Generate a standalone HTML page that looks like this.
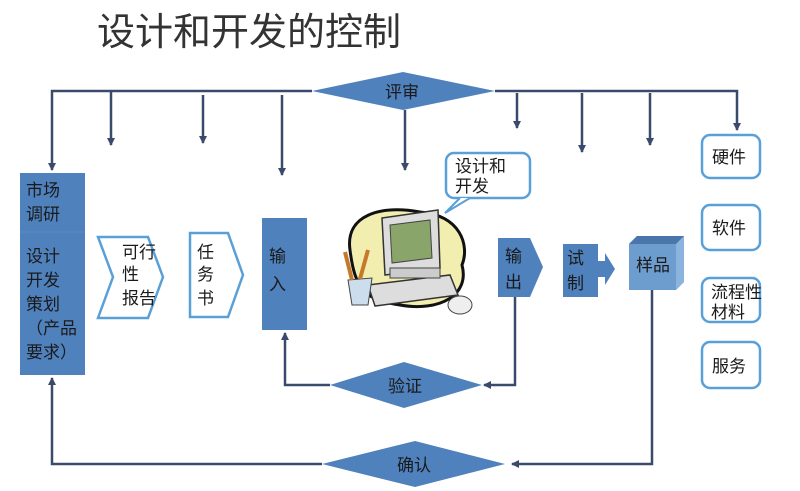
<!DOCTYPE html>
<html><head><meta charset="utf-8"><style>
html,body{margin:0;padding:0;background:#fff;}
svg{display:block;font-family:"Liberation Sans","Noto Sans CJK SC",sans-serif;}
</style></head><body>
<svg width="800" height="491" viewBox="0 0 800 491" xmlns="http://www.w3.org/2000/svg">
<defs>
<marker id="a" markerWidth="8" markerHeight="8" refX="7" refY="4" orient="auto" markerUnits="userSpaceOnUse">
<path d="M0,0 L8,4 L0,8 Z" fill="#3b4a6b"/></marker>
</defs>
<text x="97" y="45" font-size="38" fill="#333">设计和开发的控制</text>
<g stroke="#3b4a6b" stroke-width="2.5" fill="none">
<path d="M312,91 H52 V170" marker-end="url(#a)"/>
<path d="M495,91 H737 V130" marker-end="url(#a)"/>
<path d="M111,91 V145" marker-end="url(#a)"/>
<path d="M203,95 V143" marker-end="url(#a)"/>
<path d="M282,95 V175" marker-end="url(#a)"/>
<path d="M405,110 V170" marker-end="url(#a)"/>
<path d="M517,93 V128" marker-end="url(#a)"/>
<path d="M582,93 V152" marker-end="url(#a)"/>
<path d="M650,93 V145" marker-end="url(#a)"/>
<path d="M515,297 V385 H484" marker-end="url(#a)"/>
<path d="M330,385 H285 V333" marker-end="url(#a)"/>
<path d="M652,290 V464 H512" marker-end="url(#a)"/>
<path d="M322,464 H52 V378" marker-end="url(#a)"/>
</g>
<g fill="#4f81bd">
<polygon points="312,91 403,72 495,91 403,110"/>
<polygon points="330,385 404,362 482,385 404,408"/>
<polygon points="322,464 415,441 505,464 415,487"/>
<rect x="20" y="173" width="65" height="202"/>
<rect x="262" y="218" width="45" height="112"/>
<polygon points="498,238 530,238 543,267 530,297 498,297"/>
<rect x="563" y="244" width="35" height="53"/>
<polygon points="598,261 605,261 605,253 615,269 605,285 605,277 598,277"/>
</g>
<line x1="20" y1="232" x2="85" y2="232" stroke="#5b8ac4" stroke-width="1"/>
<g>
<polygon points="637,236 684,236 684,282 676,290 629,290 629,244" fill="#6d9ccf"/>
<polygon points="629,244 637,236 684,236 676,244" fill="#4a76ab"/>
<polygon points="676,244 684,236 684,282 676,290" fill="#8ab3dd"/>
</g>
<g fill="#fff" stroke="#5aa0d8" stroke-width="2.5">
<polygon points="98,237 148,237 163,277 148,318 98,318 113,277"/>
<polygon points="190,233 228,233 243,275 228,317 190,317"/>
<rect x="702" y="135" width="58" height="43" rx="8"/>
<rect x="702" y="205" width="58" height="45" rx="8"/>
<rect x="702" y="278" width="58" height="44" rx="8"/>
<rect x="702" y="342" width="58" height="46" rx="8"/>
<rect x="446" y="153" width="84" height="45" rx="8"/>
</g>
<path d="M460,198 L445,213 L470,198" fill="#fff" stroke="#5aa0d8" stroke-width="2"/>
<path d="M350,250 C345,215 380,205 420,212 C460,215 470,245 462,265 C470,295 440,312 400,305 C365,300 355,290 350,250 Z" fill="#f1eeb0" stroke="#111" stroke-width="3"/>
<polygon points="382,218 438,210 440,268 385,275" fill="#ddd" stroke="#333" stroke-width="1.5"/>
<polygon points="390,225 430,220 432,258 392,263" fill="#8aa56a" stroke="#444"/>
<polygon points="368,285 450,275 458,295 375,306" fill="#ddd" stroke="#333" stroke-width="1.5"/>
<rect x="390" y="268" width="50" height="10" fill="#ccc" stroke="#444"/>
<ellipse cx="460" cy="305" rx="12" ry="9" fill="#eee" stroke="#444"/>
<path d="M348,280 L372,278 L368,305 L352,305 Z" fill="#cde" stroke="#444"/>
<line x1="352" y1="280" x2="345" y2="252" stroke="#c47a2a" stroke-width="4"/>
<line x1="360" y1="279" x2="368" y2="250" stroke="#c47a2a" stroke-width="4"/>
<g font-size="17" fill="#1a1a1a">
<text x="26" y="196">市场</text><text x="26" y="220">调研</text>
<text x="26" y="262">设计</text><text x="26" y="286">开发</text><text x="26" y="310">策划</text>
<text x="26" y="334">（产品</text><text x="26" y="358">要求）</text>
<text x="122" y="258">可行</text><text x="122" y="280">性</text><text x="122" y="304">报告</text>
<text x="197" y="258">任</text><text x="197" y="280">务</text><text x="197" y="304">书</text>
<text x="269" y="262">输</text><text x="269" y="290">入</text>
<text x="505" y="262">输</text><text x="505" y="288">出</text>
<text x="567" y="264">试</text><text x="567" y="289">制</text>
<text x="636" y="271">样品</text>
<text x="712" y="163">硬件</text><text x="712" y="234">软件</text>
<text x="711" y="298">流程性</text><text x="711" y="318">材料</text>
<text x="712" y="372">服务</text>
<text x="455" y="172">设计和</text><text x="455" y="192">开发</text>
<text x="385" y="98">评审</text><text x="388" y="392">验证</text><text x="397" y="471">确认</text>
</g>
</svg>
</body></html>
